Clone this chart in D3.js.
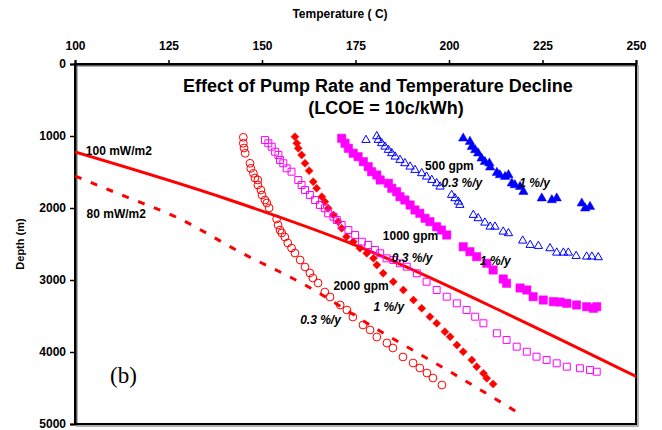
<!DOCTYPE html>
<html>
<head>
<meta charset="utf-8">
<script src="https://cdn.jsdelivr.net/npm/d3@7"></script>
<style>
  body { margin: 0; background: #fff; }
</style>
</head>
<body>
<div class="d3"></div>
<script>
// data: [temperature C, depth m]
const tempTicks = [100, 125, 150, 175, 200, 225, 250];
const depthTicks = [0, 1000, 2000, 3000, 4000, 5000];

const gpm2000_03 = [[145.0,1018],[145.0,1101],[145.2,1167],[145.5,1240],[146.8,1379],[147.0,1449],[147.7,1518],[148.1,1583],[148.9,1611],[148.9,1681],[149.7,1750],[150.0,1819],[150.8,1889],[151.3,1931],[151.9,2000],[153.9,2153],[154.3,2236],[154.8,2306],[155.3,2347],[156.1,2403],[156.9,2486],[157.9,2556],[158.8,2625],[160.2,2722],[161.5,2819],[162.8,2903],[163.6,2972],[165.0,3042],[166.8,3167],[168.2,3236],[170.9,3347],[172.7,3417],[174.3,3514],[177.0,3625],[178.9,3694],[180.7,3792],[183.4,3875],[185.0,3944],[187.7,4069],[190.4,4153],[192.2,4222],[194.1,4292],[195.7,4361],[198.1,4458]];
const gpm2000_1 = [[158.8,1010],[159.3,1101],[159.7,1171],[160.6,1264],[161.5,1379],[162.6,1482],[163.7,1635],[164.6,1726],[166.0,1843],[166.8,1913],[167.7,2004],[169.1,2097],[170.4,2190],[171.3,2282],[172.6,2399],[174.4,2468],[176.2,2560],[178.0,2629],[179.8,2699],[180.7,2792],[182.4,2907],[185.1,3024],[187.8,3139],[190.5,3278],[192.7,3393],[194.9,3510],[196.7,3601],[198.9,3718],[200.3,3788],[202.1,3903],[203.8,3996],[206.1,4111],[207.4,4204],[209.2,4296],[210.1,4365],[211.8,4444]];
const gpm1000_03 = [[150.8,1056],[151.7,1101],[152.6,1149],[153.5,1218],[154.4,1264],[154.8,1333],[155.7,1379],[156.6,1449],[157.9,1496],[159.7,1611],[160.6,1681],[161.5,1750],[162.8,1819],[164.2,1889],[165.5,1958],[166.8,2004],[167.7,2074],[169.1,2121],[170.0,2167],[171.3,2236],[173.1,2306],[174.9,2375],[176.7,2468],[178.4,2514],[180.2,2583],[181.6,2629],[183.3,2699],[185.1,2722],[186.9,2768],[188.7,2815],[191.4,2907],[194.0,3024],[196.7,3139],[199.4,3232],[202.1,3324],[204.7,3417],[207.0,3510],[209.2,3601],[212.8,3740],[215.4,3833],[218.1,3926],[220.8,3996],[223.4,4065],[226.1,4111],[228.8,4157],[231.5,4204],[235.0,4226],[237.7,4250],[239.5,4274]];
const gpm1000_1 = [[171.3,1032],[172.2,1101],[173.1,1171],[174.4,1240],[175.7,1287],[177.1,1357],[178.4,1426],[179.3,1496],[180.7,1542],[181.6,1611],[183.8,1657],[184.7,1726],[186.0,1774],[186.9,1843],[188.2,1889],[189.6,1958],[190.9,2028],[192.2,2074],[193.6,2143],[194.9,2190],[196.7,2260],[198.0,2306],[199.4,2375],[203.8,2538],[205.6,2607],[207.4,2676],[210.1,2768],[211.8,2861],[214.5,2986],[215.4,3046],[219.0,3111],[220.8,3139],[222.5,3232],[225.2,3278],[227.9,3301],[229.7,3306],[231.5,3324],[234.1,3347],[236.8,3371],[238.6,3393],[239.5,3371]];
const gpm500_03 = [[177.8,1056],[180.7,1004],[181.1,1056],[182.0,1101],[182.9,1149],[183.8,1194],[184.7,1240],[185.6,1287],[186.9,1333],[188.2,1379],[189.6,1426],[190.9,1472],[192.7,1518],[194.0,1565],[195.4,1611],[196.7,1657],[197.6,1704],[200.7,1819],[201.6,1865],[202.5,1913],[202.9,1958],[206.5,2097],[207.8,2143],[209.6,2204],[211.0,2260],[212.3,2260],[214.5,2329],[215.9,2351],[219.7,2454],[221.7,2514],[223.9,2528],[227.0,2560],[228.8,2621],[230.6,2621],[231.9,2621],[234.0,2667],[236.8,2676],[238.2,2676],[239.9,2685]];
const gpm500_1 = [[203.8,1032],[205.6,1079],[206.1,1149],[207.0,1194],[207.8,1240],[208.7,1310],[209.6,1357],[210.8,1379],[211.0,1435],[212.8,1510],[213.6,1542],[215.0,1565],[215.9,1542],[216.8,1657],[217.6,1681],[219.0,1704],[219.9,1774],[224.8,1865],[227.5,1889],[228.8,1865],[235.5,1935],[236.4,2004],[237.7,1982]];

// geotherms
const heatFlow100 = [[100,1222],[141.4,1889],[176.2,2542],[219.0,3556],[250.3,4347]];
const heatFlow80 = [[100,1556],[113.1,1833],[127.0,2125],[144.1,2611],[161.5,3069],[182.4,3736],[199.5,4250],[219.0,4860]];

const labels = [
  {t: "100 mW/m2", x: 102.9, y: 1264, it: false},
  {t: "80 mW/m2", x: 103.1, y: 2139, it: false},
  {t: "500 gpm", x: 193.6, y: 1472, it: false},
  {t: "0.3 %/y", x: 198.0, y: 1704, it: true},
  {t: "1 %/y", x: 218.8, y: 1704, it: true},
  {t: "1000 gpm", x: 182.3, y: 2444, it: false},
  {t: "0.3 %/y", x: 184.7, y: 2745, it: true},
  {t: "1 %/y", x: 208.3, y: 2792, it: true},
  {t: "2000 gpm", x: 169.1, y: 3139, it: false},
  {t: "1 %/y", x: 179.8, y: 3431, it: true},
  {t: "0.3 %/y", x: 160.2, y: 3611, it: true}
];

const sans = "'Liberation Sans', Arial, sans-serif";
const width = 662, height = 430;
const margin = {top: 64, right: 26, bottom: 6, left: 75};

const svg = d3.select(".d3").append("svg")
    .attr("width", width)
    .attr("height", height)
    .style("font-family", sans);

const x = d3.scaleLinear().domain([100, 250]).range([margin.left, width - margin.right]);
const y = d3.scaleLinear().domain([0, 5000]).range([margin.top, height - margin.bottom]);

svg.append("clipPath").attr("id", "clip")
  .append("rect")
    .attr("x", margin.left).attr("y", margin.top)
    .attr("width", x(250) - x(100)).attr("height", y(5000) - y(0));

// frame shadow + frame
svg.append("rect")
    .attr("x", x(100) + 2).attr("y", y(0) + 2)
    .attr("width", x(250) - x(100)).attr("height", y(5000) - y(0))
    .attr("fill", "none").attr("stroke", "#999").attr("stroke-width", 1.5);
svg.append("rect")
    .attr("x", x(100)).attr("y", y(0))
    .attr("width", x(250) - x(100)).attr("height", y(5000) - y(0))
    .attr("fill", "none").attr("stroke", "#000").attr("stroke-width", 2);

// axes
const xAxis = svg.append("g")
    .attr("transform", "translate(0," + y(0) + ")")
    .call(d3.axisTop(x).tickValues(tempTicks).tickSize(4).tickPadding(10).tickFormat(d3.format("d")));
const yAxis = svg.append("g")
    .attr("transform", "translate(" + x(100) + ",0)")
    .call(d3.axisLeft(y).tickValues(depthTicks).tickSize(5).tickPadding(4).tickFormat(d3.format("d")));
[xAxis, yAxis].forEach(a => {
  a.select(".domain").attr("stroke-width", 2);
  a.selectAll(".tick line").attr("stroke-width", 1.5);
  a.selectAll("text").attr("font-size", 12).attr("font-weight", "bold")
    .style("font-family", sans).attr("fill", "#000");
});

svg.append("text").attr("x", 340).attr("y", 18).attr("text-anchor", "middle")
    .attr("font-size", 12).attr("font-weight", "bold").text("Temperature ( C)");
svg.append("text").attr("transform", "translate(24,244) rotate(-90)")
    .attr("text-anchor", "middle").attr("font-size", 11).attr("font-weight", "bold")
    .text("Depth (m)");

// chart title
svg.append("text").attr("x", 378).attr("y", 92).attr("text-anchor", "middle")
    .attr("font-size", 18).attr("font-weight", "bold").text("Effect of Pump Rate and Temperature Decline");
svg.append("text").attr("x", 386).attr("y", 114).attr("text-anchor", "middle")
    .attr("font-size", 18).attr("font-weight", "bold").text("(LCOE = 10c/kWh)");

svg.append("text").attr("x", 110).attr("y", 383)
    .style("font-family", "'Liberation Serif', 'Times New Roman', serif")
    .attr("font-size", 23).text("(b)");

const plot = svg.append("g").attr("clip-path", "url(#clip)");
const line = d3.line().x(d => x(d[0])).y(d => y(d[1])).curve(d3.curveMonotoneX);

plot.append("path").datum(heatFlow100).attr("d", line)
    .attr("fill", "none").attr("stroke", "#ff0000").attr("stroke-width", 3);
plot.append("path").datum(heatFlow80).attr("d", line)
    .attr("fill", "none").attr("stroke", "#ff0000").attr("stroke-width", 3)
    .attr("stroke-dasharray", "7,10");

function scatter(data, type, size, color, filled, rot) {
  plot.append("g").selectAll("path").data(data).enter().append("path")
      .attr("transform", d => "translate(" + x(d[0]) + "," + y(d[1]) + ")" + (rot ? " rotate(" + rot + ")" : ""))
      .attr("d", d3.symbol().type(type).size(size))
      .attr("fill", filled ? color : "none")
      .attr("stroke", color)
      .attr("stroke-width", filled ? 0.5 : 1);
}

scatter(gpm2000_03, d3.symbolCircle, 48, "#ff0000", false);
scatter(gpm2000_1, d3.symbolSquare, 32, "#ff0000", true, 45);
scatter(gpm1000_03, d3.symbolSquare, 48, "#ff00ff", false);
scatter(gpm1000_1, d3.symbolSquare, 70, "#ff00ff", true);
scatter(gpm500_03, d3.symbolTriangle, 30, "#0000ff", false);
scatter(gpm500_1, d3.symbolTriangle, 38, "#0000ff", true);

svg.append("g").selectAll("text").data(labels).enter().append("text")
    .attr("x", d => x(d.x)).attr("y", d => y(d.y))
    .attr("font-size", 12).attr("font-weight", "bold")
    .attr("font-style", d => d.it ? "italic" : "normal")
    .attr("fill", "#000")
    .text(d => d.t);
</script>
</body>
</html>
